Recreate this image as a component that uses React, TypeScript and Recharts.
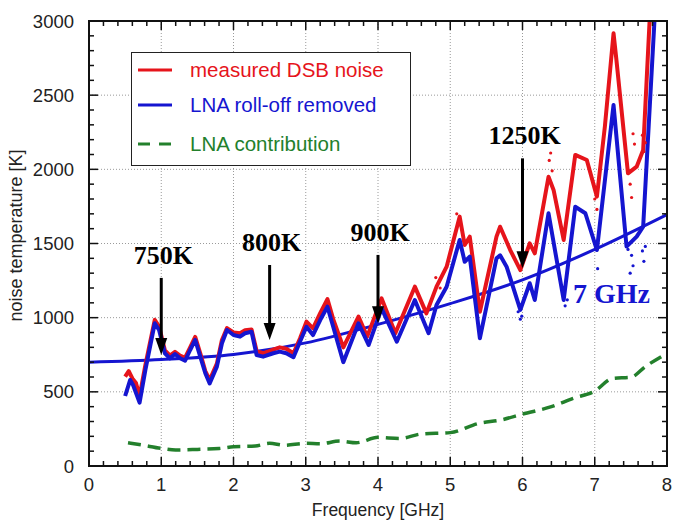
import { LineChart, Line, XAxis, YAxis, CartesianGrid, ReferenceLine, ReferenceDot } from "recharts";

// measured DSB noise (red)
const measuredFreq = [0.5, 0.55, 0.6, 0.65, 0.7, 0.78, 0.91, 0.97, 1.05, 1.12, 1.19, 1.26, 1.33, 1.4, 1.47, 1.54, 1.61, 1.67, 1.77, 1.84, 1.91, 2.0, 2.09, 2.16, 2.25, 2.32, 2.41, 2.55, 2.64, 2.73, 2.83, 2.92, 3.01, 3.1, 3.2, 3.3, 3.38, 3.52, 3.73, 3.85, 4.05, 4.24, 4.51, 4.67, 4.81, 4.95, 5.13, 5.2, 5.27, 5.41, 5.64, 5.69, 5.83, 5.97, 6.1, 6.17, 6.36, 6.43, 6.57, 6.73, 6.89, 7.03, 7.14, 7.26, 7.3, 7.46, 7.58, 7.67, 7.8];
const measuredNoise = [602, 640, 590, 560, 470, 680, 985, 940, 780, 745, 770, 745, 730, 800, 870, 760, 640, 580, 690, 850, 930, 900, 895, 915, 920, 775, 760, 785, 800, 790, 760, 860, 973, 928, 1030, 1125, 990, 800, 1007, 872, 1130, 895, 1209, 1029, 1209, 1344, 1681, 1490, 1546, 1040, 1546, 1613, 1456, 1321, 1501, 1434, 1950, 1861, 1524, 2097, 2063, 1816, 2288, 2917, 2737, 1973, 2018, 2130, 3400];

// LNA roll-off removed (blue)
const removedFreq = [0.5, 0.57, 0.61, 0.7, 0.78, 0.91, 0.97, 1.05, 1.12, 1.19, 1.26, 1.33, 1.4, 1.47, 1.54, 1.61, 1.67, 1.77, 1.84, 1.91, 2.0, 2.09, 2.16, 2.25, 2.32, 2.41, 2.55, 2.64, 2.73, 2.83, 2.92, 3.01, 3.1, 3.2, 3.3, 3.38, 3.52, 3.73, 3.87, 4.05, 4.26, 4.51, 4.7, 4.81, 4.95, 5.13, 5.2, 5.27, 5.41, 5.64, 5.69, 5.78, 5.97, 6.1, 6.17, 6.36, 6.57, 6.73, 6.87, 7.03, 7.26, 7.44, 7.58, 7.67, 7.86];
const removedNoise = [472, 580, 546, 427, 647, 962, 917, 760, 726, 755, 726, 710, 782, 850, 737, 625, 557, 670, 827, 917, 883, 872, 895, 905, 748, 737, 760, 771, 760, 733, 838, 939, 883, 984, 1074, 939, 700, 962, 816, 1063, 838, 1119, 895, 1085, 1209, 1524, 1377, 1411, 861, 1400, 1420, 1344, 1052, 1232, 1119, 1704, 1119, 1748, 1704, 1456, 2434, 1479, 1546, 1613, 3300];

// raw scatter points that stray off the smoothed curves
const rawMeasuredFreq = [4.8, 4.86, 5.09, 5.12, 6.37, 6.39, 6.41, 7.0, 7.03, 7.49, 7.51, 7.53, 7.55, 7.66, 7.68, 7.7];
const rawMeasuredNoise = [1270, 1200, 1700, 1650, 2060, 2110, 1990, 1800, 1730, 1900, 1810, 2240, 2170, 2230, 2120, 2180];
const rawRemovedFreq = [5.94, 5.97, 5.99, 6.56, 6.59, 6.62, 7.0, 7.04, 7.46, 7.49, 7.51, 7.53, 7.66, 7.68, 7.7];
const rawRemovedNoise = [1040, 990, 1010, 1180, 1080, 1120, 1500, 1330, 1460, 1300, 1420, 1350, 1450, 1380, 1480];

// smooth blue baseline
const fitFreq = [0, 1, 2, 3, 4, 5, 6, 7, 8];
const fitNoise = [700, 718, 752, 830, 955, 1095, 1255, 1460, 1695];

// LNA contribution (green dashed)
const lnaFreq = [0.54, 0.75, 1.0, 1.2, 1.5, 1.8, 2.0, 2.3, 2.5, 2.7, 3.0, 3.2, 3.47, 3.7, 4.0, 4.3, 4.6, 5.0, 5.4, 5.7, 6.0, 6.4, 6.7, 7.0, 7.25, 7.5, 7.7, 8.0];
const lnaNoise = [157, 140, 119, 108, 112, 118, 130, 135, 153, 140, 153, 150, 168, 157, 193, 186, 216, 225, 288, 310, 350, 400, 456, 505, 591, 598, 670, 760];

// annotations
const arrowFreq = [1, 2.5, 4, 6];
const arrowTop = [1268, 1355, 1423, 2074];
const arrowTip = [748, 850, 962, 1333];
const arrowText = ["750K", "800K", "900K", "1250K"];
const cutoffFreq = 6.7;
const cutoffNoise = 1097;
const cutoffText = "7 GHz";

const freqTicks = [0, 1, 2, 3, 4, 5, 6, 7, 8];
const freqMinor = Array.from({ length: 41 }, (_, i) => i / 5);
const noiseTicks = [0, 500, 1000, 1500, 2000, 2500, 3000];
const noiseMinor = Array.from({ length: 31 }, (_, i) => i * 100);

const RED = "#e6141b";
const BLUE = "#1515d0";
const GREEN = "#23802c";
const SANS = "'Liberation Sans', Arial, sans-serif";
const SERIF = "'Liberation Serif', 'Times New Roman', serif";

// plot box implied by the chart margins and axis sizes
const PLOT = { left: 89, top: 21, width: 578, height: 445 };

const toPoints = (xs: number[], ys: number[]) => xs.map((f, i) => ({ freq: f, noise: ys[i] }));

const measured = toPoints(measuredFreq, measuredNoise);
const removed = toPoints(removedFreq, removedNoise);
const rawMeasured = toPoints(rawMeasuredFreq, rawMeasuredNoise);
const rawRemoved = toPoints(rawRemovedFreq, rawRemovedNoise);
const fit = toPoints(fitFreq, fitNoise);
const lna = toPoints(lnaFreq, lnaNoise);

const isMajor = (v: number, step: number) => Math.abs(v / step - Math.round(v / step)) < 1e-6;

// box frame with inward minor/major ticks on all four sides
function Frame() {
  const { left, top, width, height } = PLOT;
  const right = left + width;
  const bottom = top + height;
  const marks: any[] = [];
  freqMinor.forEach((f, i) => {
    const x = left + (f / 8) * width;
    const len = isMajor(f, 1) ? 9 : 5;
    marks.push(<line key={"b" + i} x1={x} y1={bottom} x2={x} y2={bottom - len} />);
    marks.push(<line key={"t" + i} x1={x} y1={top} x2={x} y2={top + len} />);
  });
  noiseMinor.forEach((v, i) => {
    const y = bottom - (v / 3000) * height;
    const len = isMajor(v, 500) ? 9 : 5;
    marks.push(<line key={"l" + i} x1={left} y1={y} x2={left + len} y2={y} />);
    marks.push(<line key={"r" + i} x1={right} y1={y} x2={right - len} y2={y} />);
  });
  return (
    <svg width={673} height={520} style={{ position: "absolute", left: 0, top: 0, pointerEvents: "none" }}>
      <g stroke="#111" strokeWidth={1.5}>{marks}</g>
      <path d={`M${left},${top}H${right}V${bottom}H${left}Z`} fill="none" stroke="#111" strokeWidth={2} />
    </svg>
  );
}

const arrowShape = (text: string) => (p: any) => {
  const { x1, y1, x2, y2 } = p;
  const head = 17;
  const half = 6;
  return (
    <g>
      <line x1={x1} y1={y1} x2={x2} y2={y2 - head + 2} stroke="#000" strokeWidth={3} />
      <polygon points={`${x2},${y2} ${x2 - half},${y2 - head} ${x2 + half},${y2 - head}`} fill="#000" />
      <text x={x1 + 2} y={y1 - 14} textAnchor="middle" fontFamily={SERIF} fontWeight="bold" fontSize={26} fill="#000">
        {text}
      </text>
    </g>
  );
};

const YTitle = (props: any) => {
  const { viewBox } = props;
  const cx = viewBox.x + 22;
  const cy = viewBox.y + viewBox.height / 2 - 8;
  return (
    <text x={cx} y={cy} transform={`rotate(-90 ${cx} ${cy})`} textAnchor="middle" fontFamily={SANS} fontSize={18} fill="#222">
      noise temperature [K]
    </text>
  );
};

const XTitle = (props: any) => {
  const { viewBox } = props;
  return (
    <text x={viewBox.x + viewBox.width / 2} y={viewBox.y + 50} textAnchor="middle" fontFamily={SANS} fontSize={17.5} fill="#222">
      Frequency [GHz]
    </text>
  );
};

const legendItems = [
  { label: "measured DSB noise", color: RED, dash: undefined },
  { label: "LNA roll-off removed", color: BLUE, dash: undefined },
  { label: "LNA contribution", color: GREEN, dash: "12 9" },
];

export default function App() {
  const tickStyle = { fill: "#222", fontSize: 18.5, fontFamily: SANS };
  return (
    <div style={{ position: "relative", width: 673, height: 520, background: "#fff" }}>
      <style>{"body{margin:0}"}</style>
      <LineChart width={673} height={520} margin={{ top: 21, right: 6, left: 0, bottom: 0 }}>
        <CartesianGrid stroke="#9a9a9a" strokeDasharray="1 2" verticalValues={freqTicks} horizontalValues={noiseTicks} />
        <XAxis
          dataKey="freq"
          type="number"
          domain={[0, 8]}
          ticks={freqTicks}
          interval={0}
          tickLine={false}
          tickMargin={6}
          height={54}
          axisLine={false}
          tick={tickStyle}
          label={<XTitle />}
        />
        <YAxis
          type="number"
          domain={[0, 3000]}
          ticks={noiseTicks}
          interval={0}
          allowDataOverflow
          tickLine={false}
          tickMargin={9}
          width={89}
          axisLine={false}
          tick={tickStyle}
          label={<YTitle />}
        />

        <Line data={lna} dataKey="noise" type="monotone" stroke={GREEN} strokeWidth={3.5} strokeDasharray="13 7" dot={false} isAnimationActive={false} />
        <Line data={fit} dataKey="noise" type="monotone" stroke={BLUE} strokeWidth={3} dot={false} isAnimationActive={false} />
        <Line data={rawMeasured} dataKey="noise" stroke="none" dot={{ r: 1.6, fill: RED, stroke: "none" }} isAnimationActive={false} />
        <Line data={rawRemoved} dataKey="noise" stroke="none" dot={{ r: 1.6, fill: BLUE, stroke: "none" }} isAnimationActive={false} />
        <Line data={measured} dataKey="noise" type="linear" stroke={RED} strokeWidth={4} strokeLinejoin="round" dot={false} isAnimationActive={false} />
        <Line data={removed} dataKey="noise" type="linear" stroke={BLUE} strokeWidth={4} strokeLinejoin="round" dot={false} isAnimationActive={false} />

        {arrowFreq.map((f, i) => (
          <ReferenceLine
            key={arrowText[i]}
            segment={[{ x: f, y: arrowTop[i] }, { x: f, y: arrowTip[i] }]}
            stroke="#000"
            shape={arrowShape(arrowText[i])}
          />
        ))}
        <ReferenceDot
          x={cutoffFreq}
          y={cutoffNoise}
          r={0}
          shape={(p: any) => (
            <text x={p.cx} y={p.cy} fontFamily={SERIF} fontWeight="bold" fontSize={28} fill={BLUE}>
              {cutoffText}
            </text>
          )}
        />
      </LineChart>
      <Frame />
      <div
        style={{
          position: "absolute",
          left: 131,
          top: 52,
          width: 278,
          height: 112,
          border: "1.5px solid #222",
          background: "#fff",
          fontFamily: SANS,
          fontSize: 20.5,
        }}
      >
        {legendItems.map((it, i) => (
          <div key={it.label} style={{ position: "absolute", left: 5, top: [4, 39, 78][i], height: 26, display: "flex", alignItems: "center" }}>
            <svg width={38} height={10} style={{ marginRight: 15 }}>
              <line x1={1} y1={5} x2={35} y2={5} stroke={it.color} strokeWidth={3} strokeDasharray={it.dash} />
            </svg>
            <span style={{ color: it.color, whiteSpace: "nowrap" }}>{it.label}</span>
          </div>
        ))}
      </div>
    </div>
  );
}
